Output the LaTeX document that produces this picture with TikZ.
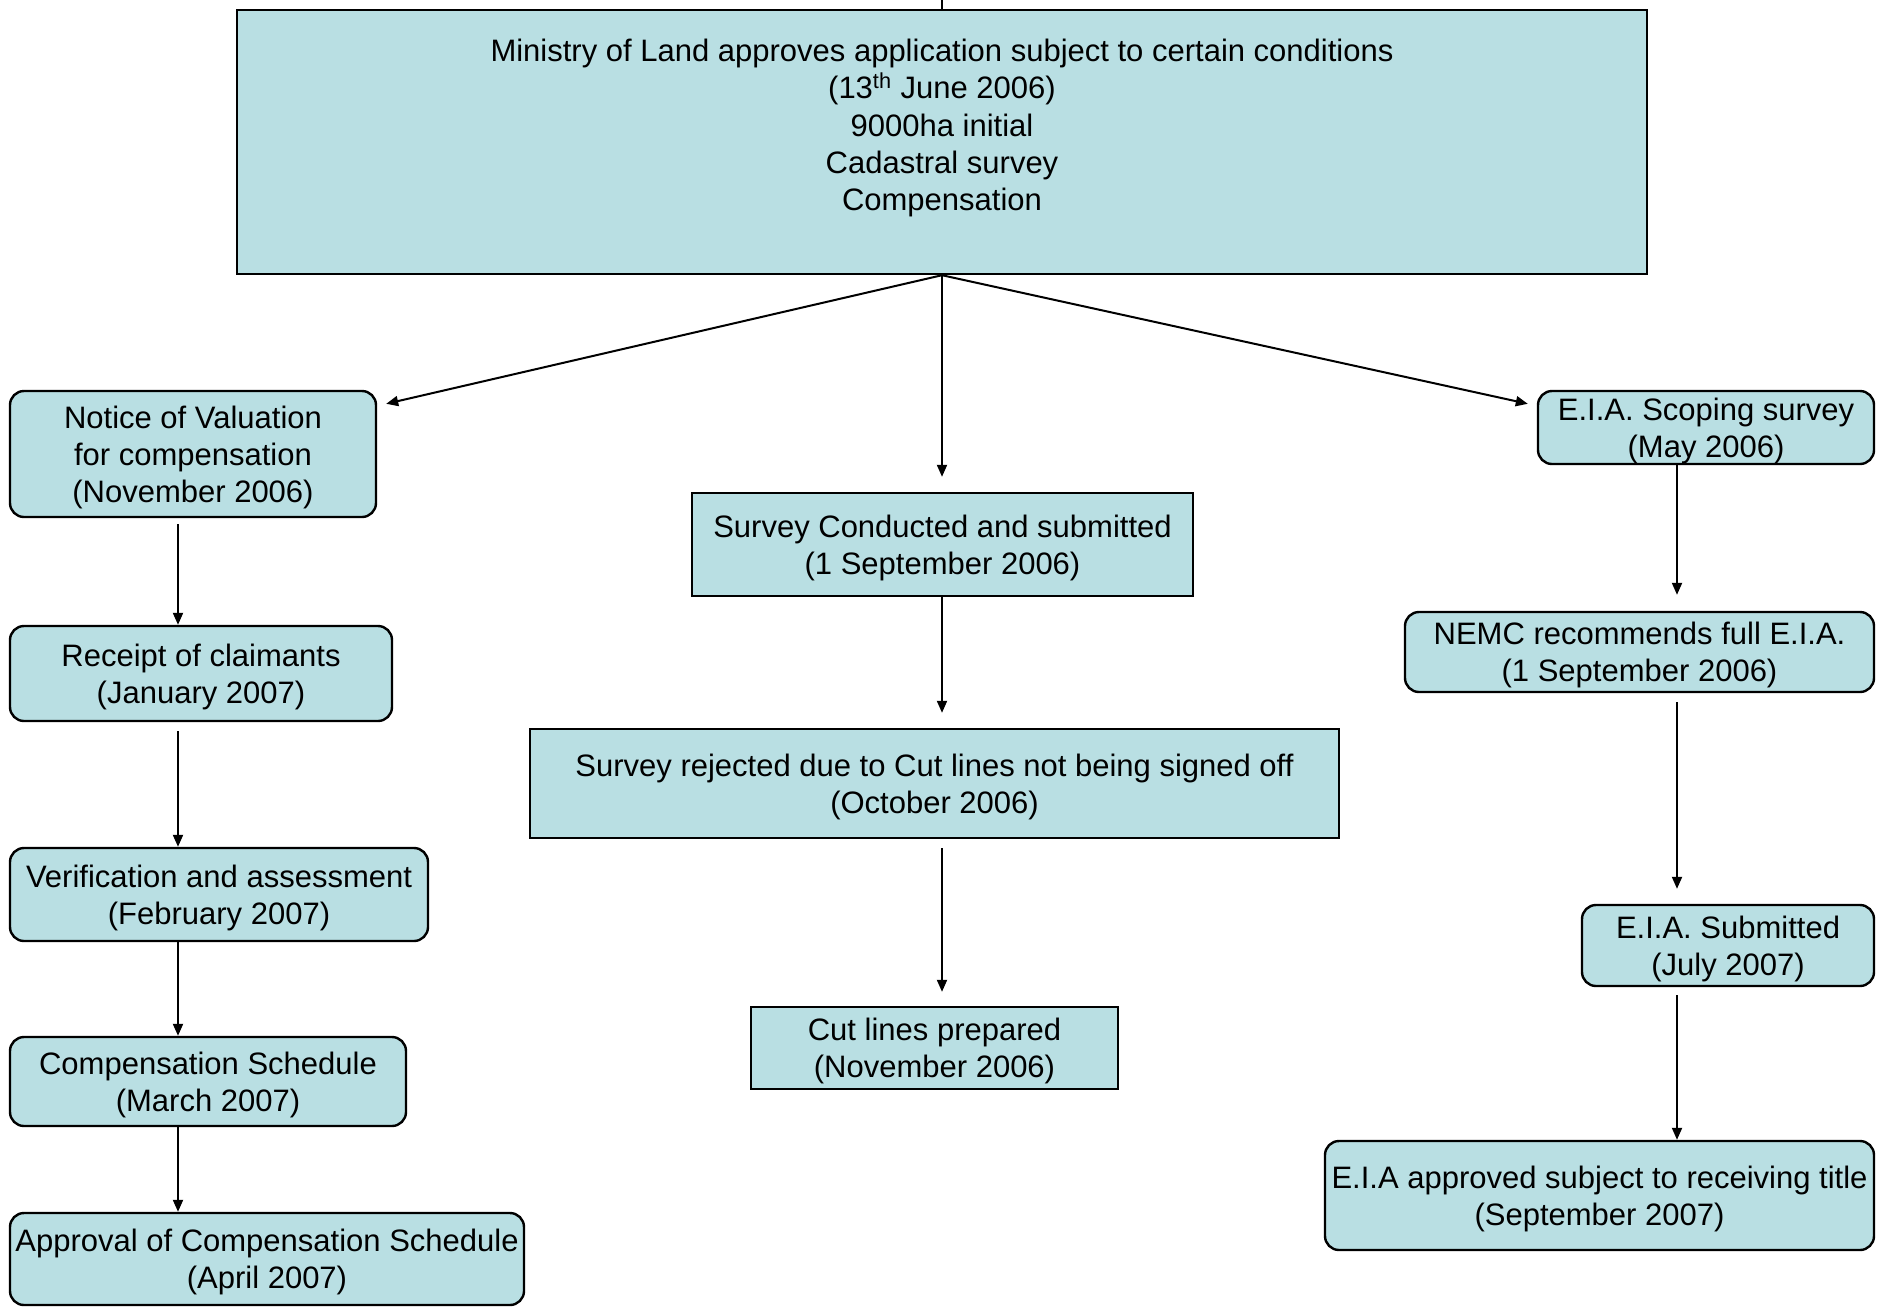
\documentclass[tikz,border=0pt]{standalone}
\usepackage{fontspec}
\setmainfont{Liberation Sans}
\usepackage{tikz}
\usetikzlibrary{arrows.meta}
\usepackage{xcolor}
\definecolor{boxfill}{RGB}{185,223,227}

\tikzset{
  stage/.style={draw, line width=1.2pt, fill=boxfill, rounded corners=7pt, align=center,
    inner sep=0pt, font=\fontsize{15.5}{18.6}\selectfont, text depth=-0.8pt},
  flatstage/.style={stage, rounded corners=0pt},
  flow/.style={-{Triangle[length=6pt,width=5pt]}, line width=1pt}
}

\begin{document}
\begin{tikzpicture}[x=0.5pt, y=-0.5pt]
    \useasboundingbox (0,0) rectangle (1885,1308);
    % Ministry decision
    \node[flatstage, minimum width=705pt, minimum height=132pt] (main) at (942,142) {};
    \node[align=center, inner sep=0pt, font=\fontsize{15.5}{18.6}\selectfont] (maintext) at (942,128)
      {Ministry of Land approves application subject to certain conditions\\
       (13\textsuperscript{th} June 2006)\\ 9000ha initial\\ Cadastral survey\\ Compensation};
    \coordinate (topend) at (942,0);
    \draw[line width=1pt] (main.north) -- (topend);
    % Compensation branch
    \coordinate (lcol) at (178,0);
    \node[stage, minimum width=183pt, minimum height=63pt] (notice) at (193,454)
      {Notice of Valuation\\ for compensation\\ (November 2006)};
    \node[stage, minimum width=191pt, minimum height=47.5pt] (receipt) at (201,673.5)
      {Receipt of claimants\\ (January 2007)};
    \node[stage, minimum width=209pt, minimum height=46.5pt] (verify) at (219,894.5)
      {Verification and assessment\\ (February 2007)};
    \node[stage, minimum width=198pt, minimum height=44.5pt] (schedule) at (208,1081.5)
      {Compensation Schedule\\ (March 2007)};
    \node[stage, minimum width=257pt, minimum height=46pt] (approval) at (267,1259)
      {Approval of Compensation Schedule\\ (April 2007)};
    \draw[flow] ([yshift=-3pt]notice.south -| lcol) -- (receipt.north -| lcol);
    \draw[flow] ([yshift=-4.5pt]receipt.south -| lcol) -- (verify.north -| lcol);
    \draw[flow] (verify.south -| lcol) -- (schedule.north -| lcol);
    \draw[flow] (schedule.south -| lcol) -- (approval.north -| lcol);
    % Survey branch
    \node[flatstage, minimum width=250.5pt, minimum height=51.5pt] (survey) at (942.5,544.5)
      {Survey Conducted and submitted\\ (1 September 2006)};
    \node[flatstage, minimum width=404.5pt, minimum height=54.5pt] (rejected) at (934.5,783.5)
      {Survey rejected due to Cut lines not being signed off\\ (October 2006)};
    \node[flatstage, minimum width=183.5pt, minimum height=41pt] (cutlines) at (934.5,1048)
      {Cut lines prepared\\ (November 2006)};
    \draw[flow] (main.south) -- ([yshift=7.5pt]survey.north -| main.south);
    \draw[flow] (survey.south -| main.south) -- ([yshift=7.5pt]rejected.north -| main.south);
    \draw[flow] ([yshift=-4.5pt]rejected.south -| main.south) -- ([yshift=7pt]cutlines.north -| main.south);
    % E.I.A. branch
    \coordinate (rcol) at (1677,0);
    \node[stage, minimum width=168pt, minimum height=36.5pt] (scoping) at (1706,427.5)
      {E.I.A. Scoping survey\\ (May 2006)};
    \node[stage, minimum width=234.5pt, minimum height=40pt] (nemc) at (1639.5,652)
      {NEMC recommends full E.I.A.\\ (1 September 2006)};
    \node[stage, minimum width=146pt, minimum height=40.5pt] (submitted) at (1728,945.5)
      {E.I.A. Submitted\\ (July 2007)};
    \node[stage, minimum width=274.5pt, minimum height=54.5pt] (eiaok) at (1599.5,1195.5)
      {E.I.A approved subject to receiving title\\ (September 2007)};
    \draw[flow] (scoping.south -| rcol) -- ([yshift=8pt]nemc.north -| rcol);
    \draw[flow] ([yshift=-4.5pt]nemc.south -| rcol) -- ([yshift=7.5pt]submitted.north -| rcol);
    \draw[flow] ([yshift=-4pt]submitted.south -| rcol) -- (eiaok.north -| rcol);
    % diagonal branches
    \draw[flow] (main.south) -- ([xshift=4.5pt,yshift=-7pt]notice.north east);
    \draw[flow] (main.south) -- ([xshift=-4.5pt,yshift=-7pt]scoping.north west);
\end{tikzpicture}
\end{document}
